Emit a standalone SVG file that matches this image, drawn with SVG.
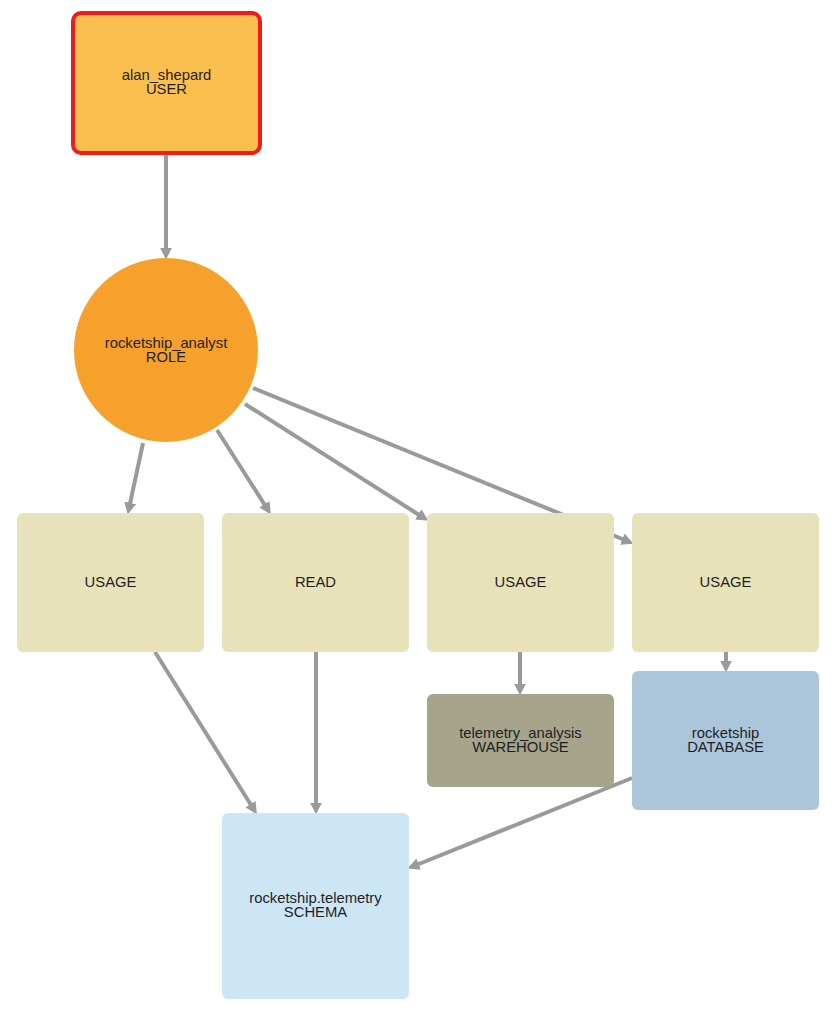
<svg xmlns="http://www.w3.org/2000/svg" width="837" height="1014" viewBox="0 0 837 1014">
<defs>
<style>
.edge{stroke:#9a9a9a;stroke-width:4;fill:none;marker-end:url(#arr)}
.lbl{font-family:"Liberation Sans",Arial,Helvetica,sans-serif;font-size:14.8px;fill:#1e1e1e;text-anchor:middle}
.priv{fill:#E8E2BA}
</style>
<marker id="arr" markerUnits="userSpaceOnUse" markerWidth="12" markerHeight="12" viewBox="0 0 10 10" refX="2" refY="5" orient="auto">
<path d="M0,0 L10,5 L0,10 z" fill="#9a9a9a"/>
</marker>
</defs>
<rect width="837" height="1014" fill="#ffffff"/>
<g id="connectors">
<line class="edge" x1="166" y1="154" x2="166" y2="250"/>
<line class="edge" x1="143" y1="443" x2="129.7" y2="505.2"/>
<line class="edge" x1="217" y1="430" x2="265.7" y2="506.3"/>
<line class="edge" x1="245" y1="404" x2="420.3" y2="515.7"/>
<line class="edge" x1="253" y1="388" x2="624.6" y2="540"/>
<line class="edge" x1="155" y1="652" x2="251.8" y2="806.2"/>
<line class="edge" x1="316" y1="652" x2="316" y2="805"/>
<line class="edge" x1="520" y1="652" x2="520" y2="686"/>
<line class="edge" x1="726" y1="652" x2="726" y2="663"/>
<line class="edge" x1="632" y1="778" x2="416.4" y2="865"/>
</g>
<g id="user">
<rect x="73" y="13" width="187" height="140" rx="8" fill="#FBBF4F" stroke="#EE1C1C" stroke-width="4"/>
<text class="lbl" x="166.5" y="80">alan_shepard</text>
<text class="lbl" x="166.5" y="94">USER</text>
</g>
<g id="role">
<circle cx="166" cy="350" r="92" fill="#F6A12B"/>
<text class="lbl" x="166" y="348">rocketship_analyst</text>
<text class="lbl" x="166" y="362">ROLE</text>
</g>
<g id="usage1">
<rect class="priv" x="17" y="513" width="187" height="139" rx="6"/>
<text class="lbl" x="110.5" y="587">USAGE</text>
</g>
<g id="read">
<rect class="priv" x="222" y="513" width="187" height="139" rx="6"/>
<text class="lbl" x="315.5" y="587">READ</text>
</g>
<g id="usage3">
<rect class="priv" x="427" y="513" width="187" height="139" rx="6"/>
<text class="lbl" x="520.5" y="587">USAGE</text>
</g>
<g id="usage4">
<rect class="priv" x="632" y="513" width="187" height="139" rx="6"/>
<text class="lbl" x="725.5" y="587">USAGE</text>
</g>
<g id="warehouse">
<rect x="427" y="694" width="187" height="93" rx="6" fill="#A6A58C"/>
<text class="lbl" x="520.5" y="738">telemetry_analysis</text>
<text class="lbl" x="520.5" y="752">WAREHOUSE</text>
</g>
<g id="database">
<rect x="632" y="671" width="187" height="139" rx="6" fill="#ABC6DB"/>
<text class="lbl" x="725.5" y="738">rocketship</text>
<text class="lbl" x="725.5" y="752">DATABASE</text>
</g>
<g id="schema">
<rect x="222" y="813" width="187" height="186" rx="6" fill="#CDE6F6"/>
<text class="lbl" x="315.5" y="903">rocketship.telemetry</text>
<text class="lbl" x="315.5" y="917">SCHEMA</text>
</g>
</svg>
